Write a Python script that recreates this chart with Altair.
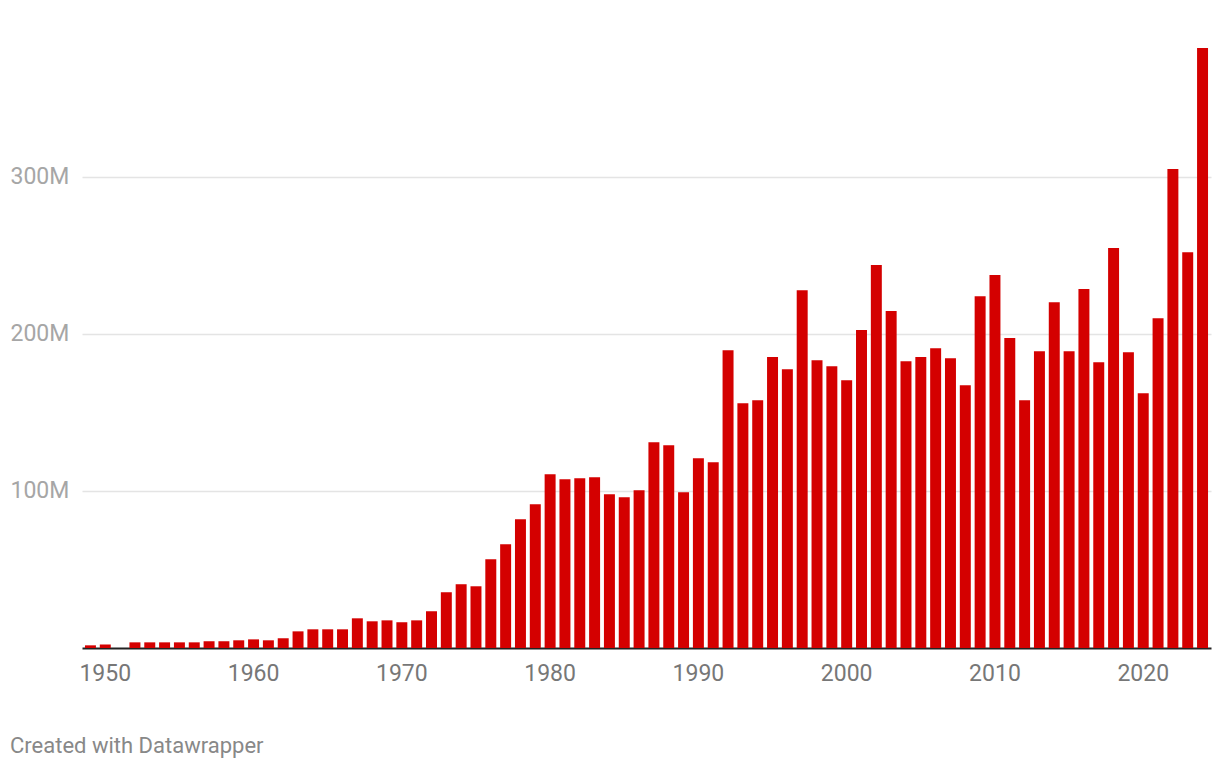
import altair as alt
import pandas as pd

years = list(range(1949, 2025))
values_m = [
    1.7, 2.3, 0.0, 3.6, 3.6, 3.6, 3.6, 3.6, 4.3, 4.3,
    4.9, 5.5, 4.9, 6.2, 10.6, 11.9, 11.9, 11.9, 18.9, 17.0,
    17.6, 16.4, 17.6, 23.4, 35.5, 40.6, 39.3, 56.5, 66.0, 82.0,
    91.5, 110.6, 107.5, 108.1, 108.7, 97.9, 96.0, 100.4, 131.0, 129.1,
    99.2, 120.8, 118.3, 189.6, 155.9, 157.8, 185.2, 177.5, 227.8, 183.2,
    179.4, 170.5, 202.4, 243.8, 214.5, 182.6, 185.2, 190.9, 184.5, 167.3,
    224.0, 237.4, 197.3, 157.8, 189.0, 220.2, 189.0, 228.5, 182.0, 254.6,
    188.3, 162.2, 210.0, 304.9, 252.0, 382.0,
]
x_tick_years = [1950, 1960, 1970, 1980, 1990, 2000, 2010, 2020]
y_ticks = [100e6, 200e6, 300e6]
footer = ["Created with Datawrapper"]

df = pd.DataFrame({"year": years, "value": [v * 1e6 for v in values_m]})

bars = alt.Chart(df).mark_bar(color="#d40000").encode(
    x=alt.X(
        "year:O",
        scale=alt.Scale(paddingInner=0.26, paddingOuter=0.2),
        axis=alt.Axis(
            values=x_tick_years,
            title=None,
            ticks=False,
            labelAngle=0,
            labelFont="Roboto",
            labelFontSize=23,
            labelColor="#777777",
            labelPadding=14,
            domainColor="#222222",
            domainWidth=2,
            grid=False,
        ),
    ),
    y=alt.Y(
        "value:Q",
        scale=alt.Scale(domain=[0, 382e6], nice=False),
        axis=alt.Axis(
            values=y_ticks,
            title=None,
            ticks=False,
            domain=False,
            labelAlign="left",
            labelBaseline="middle",
            labelPadding=72,
            labelFont="Roboto",
            labelFontSize=23,
            labelColor="#a6a6a6",
            labelExpr="datum.value / 1000000 + 'M'",
            grid=True,
            gridColor="#e4e4e4",
            gridWidth=1.5,
        ),
    ),
)

foot = alt.Chart(pd.DataFrame({"t": footer})).mark_text(
    align="left",
    baseline="middle",
    font="Roboto",
    fontSize=22,
    color="#888888",
).encode(
    text="t:N",
    x=alt.value(-72),
    y=alt.value(698),
)

chart = alt.layer(bars, foot).properties(
    width=1129,
    height=600,
    background="white",
    autosize=alt.AutoSizeParams(type="none"),
    padding={"left": 82, "top": 48, "right": 9, "bottom": 122},
).configure_view(stroke=None)

chart.save("out.html", embed_options={"renderer": "svg", "actions": False})
